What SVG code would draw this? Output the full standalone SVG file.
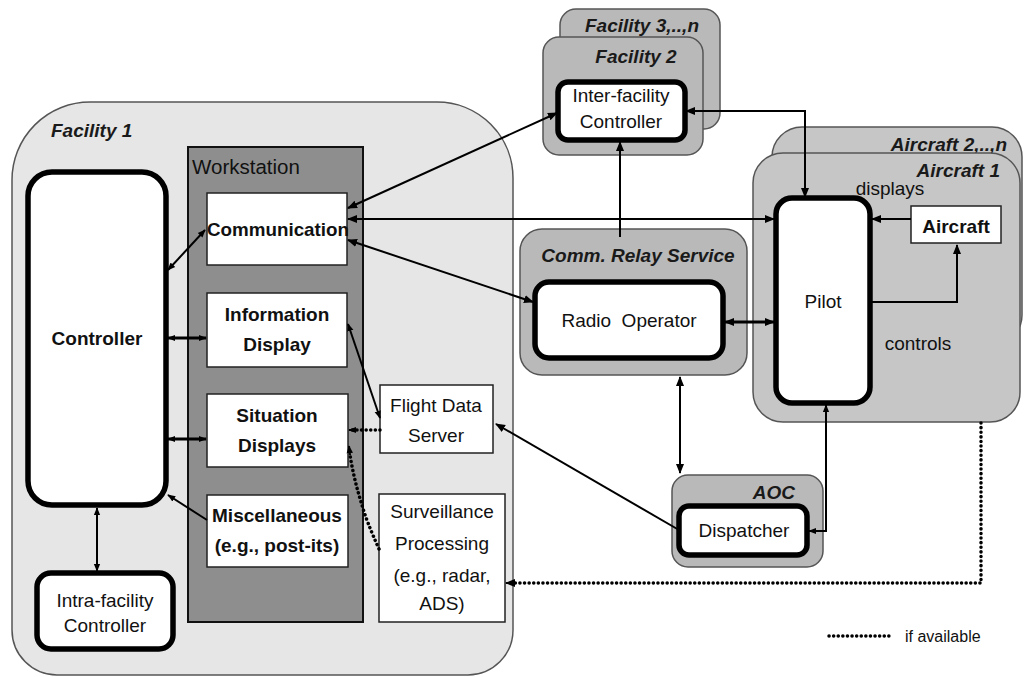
<svg xmlns="http://www.w3.org/2000/svg" width="1024" height="677" viewBox="0 0 1024 677">
<style>
text{font-family:"Liberation Sans",Arial,sans-serif;font-size:19px;fill:#111}
.b{font-weight:bold}
.bi{font-weight:bold;font-style:italic;fill:#1a1a1a}
.c{text-anchor:middle}
.r{text-anchor:end}
.cont{stroke:#555;stroke-width:1.5}
.thick{fill:#fff;stroke:#000;stroke-width:5.5}
.box{fill:#fff;stroke:#222;stroke-width:1.5}
.ln{fill:none;stroke:#000;stroke-width:2}
.lnt{fill:none;stroke:#000;stroke-width:3.2}
.dot{fill:none;stroke:#000;stroke-width:3.5;stroke-dasharray:0.1 4.5;stroke-linecap:round}
</style>
<defs>
<marker id="ah" viewBox="0 0 10 10" refX="9" refY="5" markerWidth="10" markerHeight="10" markerUnits="userSpaceOnUse" orient="auto-start-reverse">
<path d="M0,1 L10,5 L0,9 Z" fill="#000"/>
</marker>
<marker id="ahs" viewBox="0 0 10 10" refX="9" refY="5" markerWidth="8" markerHeight="8" markerUnits="userSpaceOnUse" orient="auto-start-reverse">
<path d="M0,1 L10,5 L0,9 Z" fill="#000"/>
</marker>
</defs>
<rect width="1024" height="677" fill="#fff"/>

<g id="facility1">
<path class="cont" fill="#e6e6e6" d="M12,180 A78,78 0 0 1 90,102 L437,102 A76,76 0 0 1 513,178 L513,630 A45,45 0 0 1 468,675 L57,675 A45,45 0 0 1 12,630 Z"/>
<text class="bi" x="51" y="137">Facility 1</text>
</g>

<g id="workstation">
<rect x="188" y="147" width="175" height="475" fill="#8e8e8e" stroke="#111" stroke-width="2"/>
<text x="192" y="174" fill="#222" style="font-size:20.5px">Workstation</text>
</g>

<g id="facility3n">
<rect class="cont" x="560" y="9" width="160" height="120" rx="16" fill="#b9b9b9"/>
<text class="bi c" x="642" y="32">Facility 3,..,n</text>
</g>
<g id="facility2">
<rect class="cont" x="543" y="37" width="160" height="118" rx="16" fill="#b9b9b9"/>
<text class="bi c" x="636" y="63">Facility 2</text>
</g>

<g id="aircraft2n">
<rect class="cont" x="772" y="127" width="250" height="218" rx="30" fill="#c6c6c6"/>
<text class="bi r" x="1007" y="151">Aircraft 2,..,n</text>
</g>
<g id="aircraft1">
<rect class="cont" x="753" y="153" width="267" height="269" rx="30" fill="#c6c6c6"/>
<text class="bi r" x="1000" y="177">Aircraft 1</text>
<text class="c" x="890" y="195">displays</text>
<text class="c" x="918" y="350">controls</text>
</g>

<g id="commRelay">
<rect class="cont" x="520" y="229" width="227" height="146" rx="22" fill="#b9b9b9"/>
<text class="bi c" x="638" y="262">Comm. Relay Service</text>
</g>

<g id="aoc">
<rect class="cont" x="672" y="475" width="151" height="92" rx="16" fill="#b9b9b9"/>
<text class="bi r" x="795" y="499">AOC</text>
</g>

<g id="controller">
<rect class="thick" x="28" y="172" width="138" height="333" rx="24"/>
<text class="b c" x="97" y="345">Controller</text>
</g>

<g id="communication">
<rect class="box" x="207" y="193" width="140" height="72"/>
<text class="b" x="207" y="236" textLength="142" lengthAdjust="spacingAndGlyphs">Communication</text>
</g>

<g id="informationDisplay">
<rect class="box" x="207" y="293" width="140" height="74"/>
<text class="b c" x="277" y="321">Information</text>
<text class="b c" x="277" y="351">Display</text>
</g>

<g id="situationDisplays">
<rect class="box" x="207" y="394" width="141" height="73"/>
<text class="b c" x="277" y="422">Situation</text>
<text class="b c" x="277" y="452">Displays</text>
</g>

<g id="miscellaneous">
<rect class="box" x="207" y="495" width="141" height="72"/>
<text class="b c" x="277" y="522">Miscellaneous</text>
<text class="b c" x="277" y="552">(e.g., post-its)</text>
</g>

<g id="flightDataServer">
<rect class="box" x="380" y="385" width="113" height="68"/>
<text class="c" x="436" y="412">Flight Data</text>
<text class="c" x="436" y="442">Server</text>
</g>

<g id="surveillance">
<rect class="box" x="379" y="494" width="126" height="128"/>
<text class="c" x="442" y="518">Surveillance</text>
<text class="c" x="442" y="550">Processing</text>
<text class="c" x="442" y="582">(e.g., radar,</text>
<text class="c" x="442" y="610">ADS)</text>
</g>

<g id="intraFacility">
<rect class="thick" x="37" y="573" width="136" height="76" rx="14"/>
<text class="c" x="105" y="607">Intra-facility</text>
<text class="c" x="105" y="632">Controller</text>
</g>

<g id="interFacility">
<rect class="thick" x="558" y="82" width="127" height="58" rx="10"/>
<text class="c" x="621" y="102">Inter-facility</text>
<text class="c" x="621" y="128">Controller</text>
</g>

<g id="radioOperator">
<rect class="thick" x="535" y="282" width="188" height="76" rx="14"/>
<text class="c" x="629" y="327" xml:space="preserve">Radio  Operator</text>
</g>

<g id="dispatcher">
<rect class="thick" x="679" y="506" width="128" height="49" rx="10"/>
<text class="c" x="744" y="537">Dispatcher</text>
</g>

<g id="pilot">
<rect class="thick" x="776" y="198" width="94" height="205" rx="16"/>
<text class="c" x="823" y="308">Pilot</text>
</g>

<g id="aircraft">
<rect class="box" x="911" y="206" width="90" height="37"/>
<text class="b c" x="956" y="233">Aircraft</text>
</g>

<g id="connectors">
<path class="ln" d="M97,508 L97,571" marker-start="url(#ahs)" marker-end="url(#ahs)"/>
<path class="ln" d="M168,270 L205,230" marker-start="url(#ahs)" marker-end="url(#ahs)"/>
<path class="lnt" d="M168,338 L206,338" marker-start="url(#ahs)" marker-end="url(#ahs)"/>
<path class="lnt" d="M168,439 L206,439" marker-start="url(#ahs)" marker-end="url(#ahs)"/>
<path class="ln" d="M207,520 L168,495" marker-end="url(#ahs)"/>
<path class="ln" d="M380,418 L348,324" marker-start="url(#ahs)" marker-end="url(#ahs)"/>
<path class="dot" d="M380,430 L352,430"/>
<path class="ln" d="M356,430 L349,430" marker-end="url(#ahs)"/>
<path class="dot" d="M379,549 Q366,520 362,505 Q354,480 350,455"/>
<path class="ln" d="M350,455 L349,446" marker-end="url(#ahs)"/>
<path class="ln" d="M348,208 L557,113" marker-start="url(#ah)" marker-end="url(#ah)"/>
<path class="ln" d="M348,219 L774,219" marker-start="url(#ah)" marker-end="url(#ah)"/>
<path class="ln" d="M348,240 L533,302" marker-start="url(#ah)" marker-end="url(#ah)"/>
<path class="ln" d="M686,111 L805,111 L805,197" marker-start="url(#ah)" marker-end="url(#ah)"/>
<path class="ln" d="M620,237 L620,142" marker-end="url(#ah)"/>
<path class="lnt" d="M725,322 L774,322" marker-start="url(#ah)" marker-end="url(#ah)"/>
<path class="ln" d="M680,377 L680,473" marker-start="url(#ah)" marker-end="url(#ah)"/>
<path class="ln" d="M809,531 L826,531 L826,405" marker-start="url(#ahs)" marker-end="url(#ahs)"/>
<path class="ln" d="M679,530 L496,424" marker-end="url(#ah)"/>
<path class="ln" d="M911,219 L872,219" marker-end="url(#ah)"/>
<path class="ln" d="M870,302 L957,302 L957,245" marker-end="url(#ah)"/>
<path class="dot" d="M981,423 L981,583 L514,583"/>
<path class="ln" d="M516,583 L506,583" marker-end="url(#ah)"/>
</g>

<g id="legend">
<path class="dot" d="M829,636 L890,636"/>
<text x="905" y="642" style="font-size:16px">if available</text>
</g>
</svg>
